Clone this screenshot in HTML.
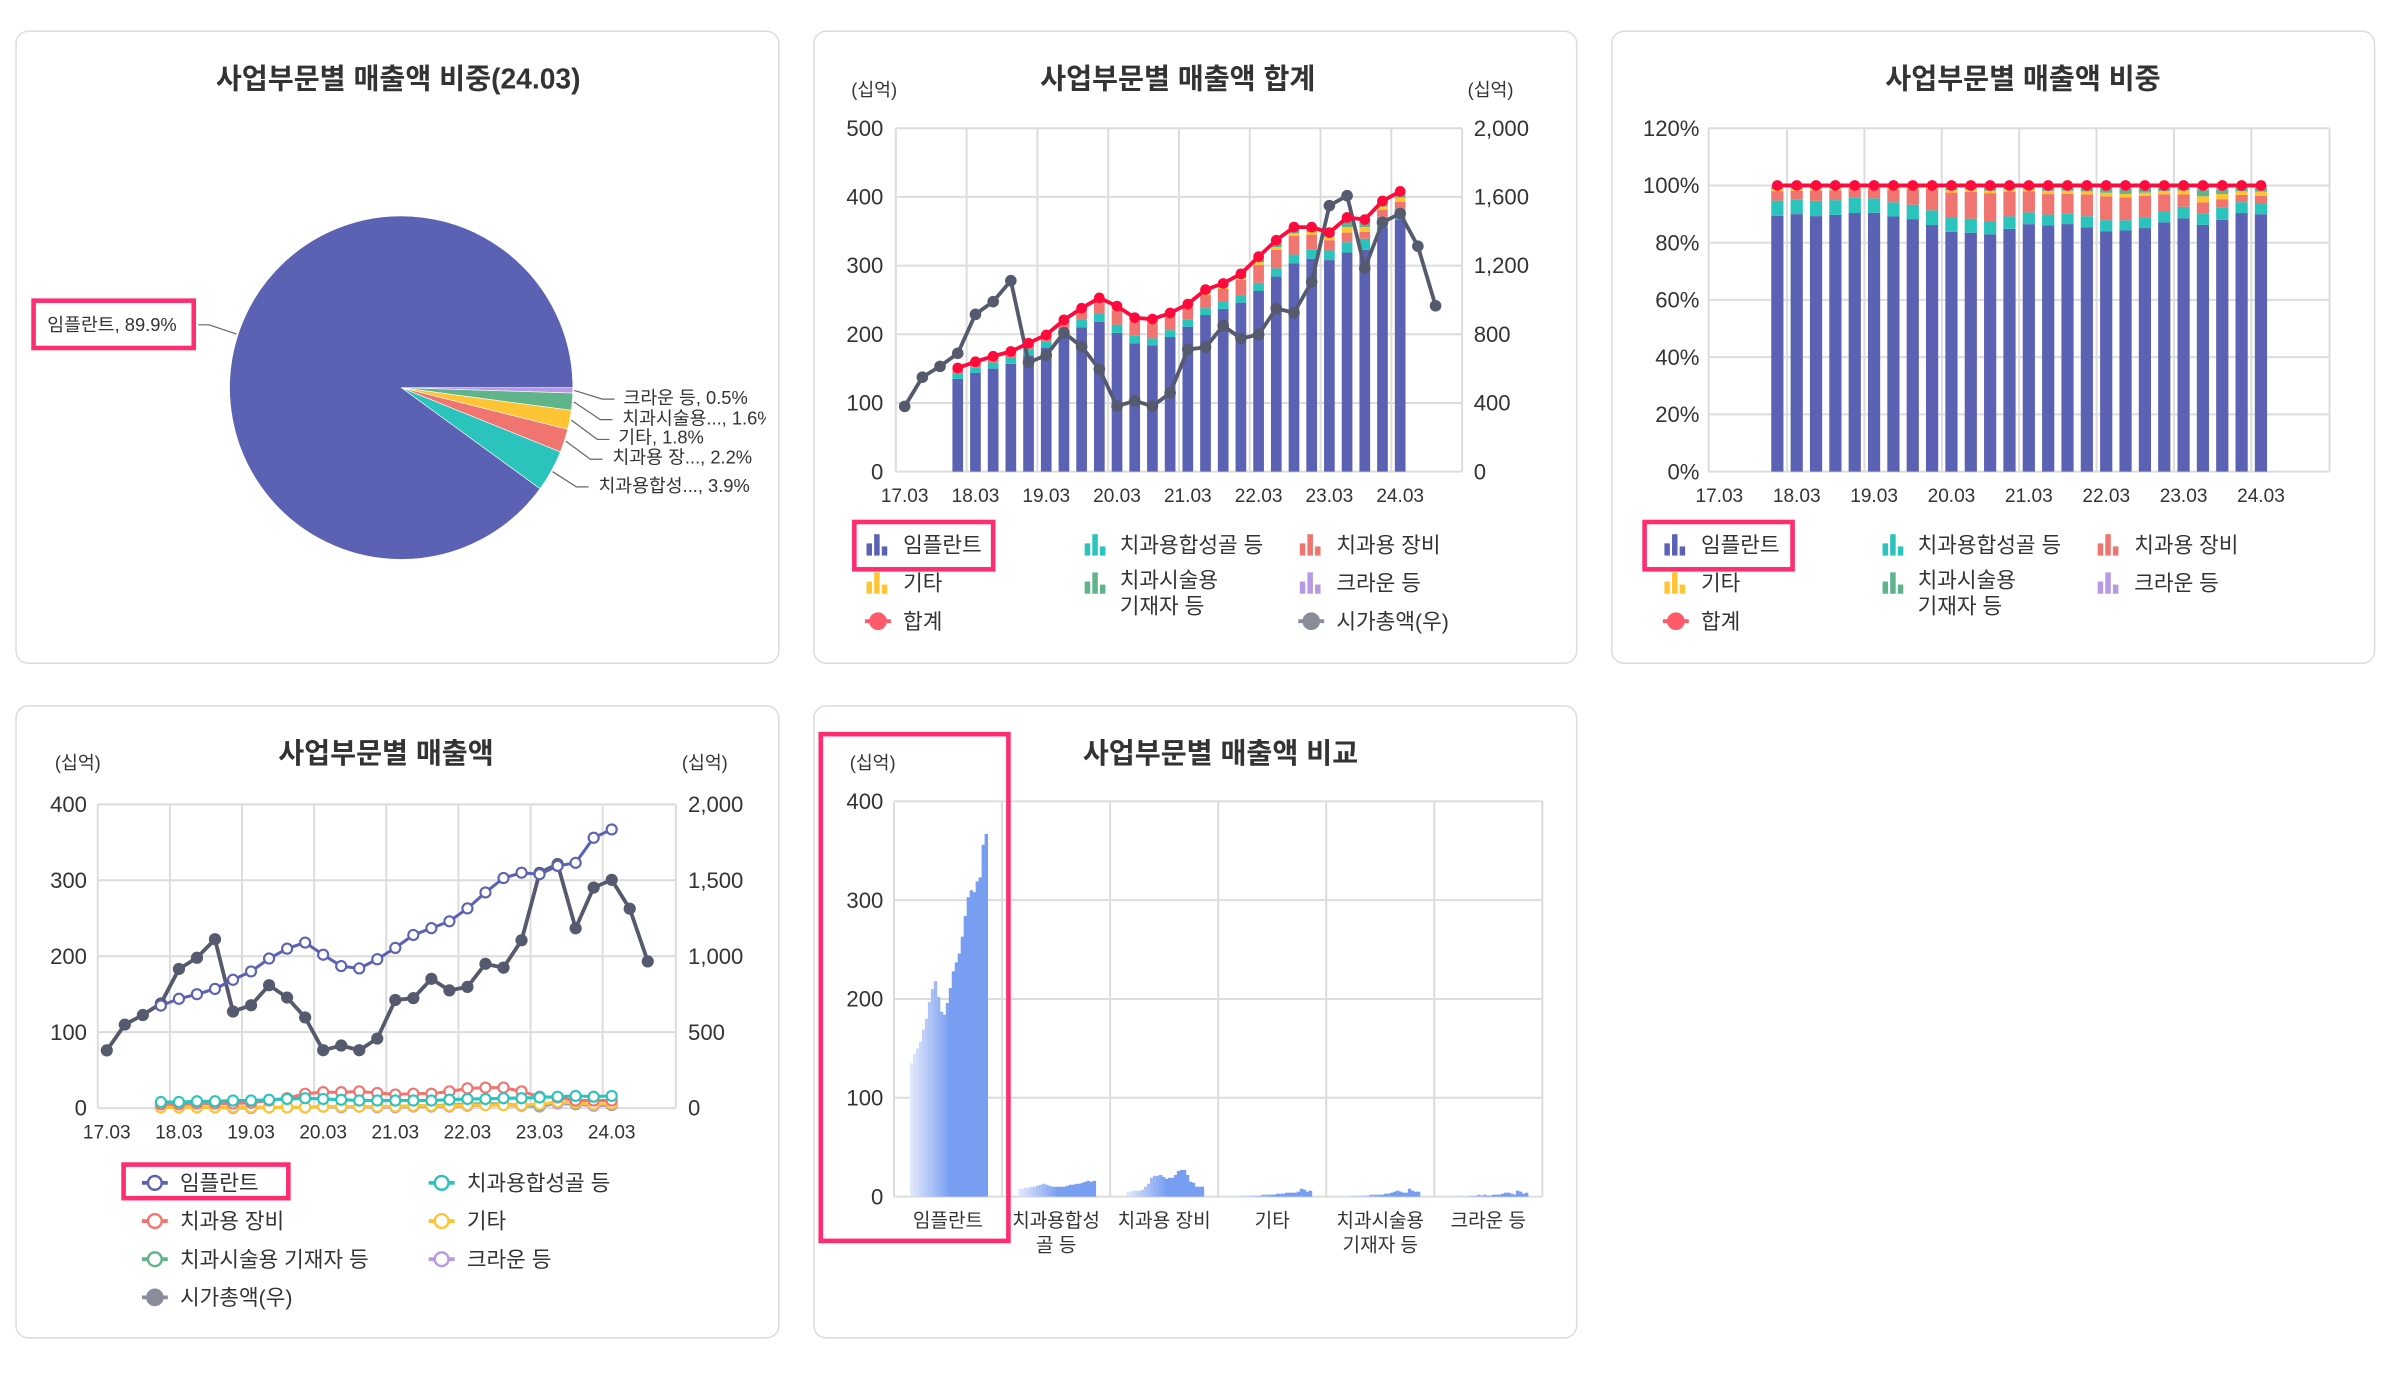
<!DOCTYPE html>
<html><head><meta charset="utf-8">
<style>
html,body{margin:0;padding:0;background:#fff;}
svg{display:block;}
text{font-family:"Liberation Sans","Noto Sans CJK KR",sans-serif;fill:#333;}
.t{font-weight:bold;font-size:18.5px;fill:#333;}
.tk{font-size:14.5px;fill:#333;}
.xl{font-size:12.5px;fill:#333;}
.u{font-size:12px;fill:#333;}
.lg{font-size:14px;fill:#333;}
.pl{font-size:12px;fill:#333;}
</style></head>
<body>
<svg id="root" width="2386" height="1392" viewBox="0 0 1564 912" preserveAspectRatio="none" xmlns="http://www.w3.org/2000/svg">
<defs><clipPath id="clip1"><rect x="10" y="20" width="492" height="414"/></clipPath></defs>
<rect x="10.5" y="20.5" width="500" height="414" rx="8" fill="#fff" stroke="#dcdcdc"/>
<rect x="533.5" y="20.5" width="500" height="414" rx="8" fill="#fff" stroke="#dcdcdc"/>
<rect x="1056.5" y="20.5" width="500" height="414" rx="8" fill="#fff" stroke="#dcdcdc"/>
<rect x="10.5" y="462.5" width="500" height="414" rx="8" fill="#fff" stroke="#dcdcdc"/>
<rect x="533.5" y="462.5" width="500" height="414" rx="8" fill="#fff" stroke="#dcdcdc"/>

<text class="t" x="261" y="58" text-anchor="middle">사업부문별 매출액 비중(24.03)</text>
<text class="t" x="772" y="58" text-anchor="middle">사업부문별 매출액 합계</text>
<text class="t" x="1326" y="58" text-anchor="middle">사업부문별 매출액 비중</text>
<text class="t" x="253" y="500" text-anchor="middle">사업부문별 매출액</text>
<text class="t" x="800" y="500" text-anchor="middle">사업부문별 매출액 비교</text>

<text class="u" x="558" y="63">(십억)</text>
<text class="u" x="962" y="63">(십억)</text>
<text class="u" x="36" y="504">(십억)</text>
<text class="u" x="447" y="504">(십억)</text>
<text class="u" x="557" y="504">(십억)</text>

<g id="g1" clip-path="url(#clip1)"></g>
<g id="g2"></g><g id="g3"></g><g id="g4"></g><g id="g5"></g>
<g id="gl"></g>

<rect x="22" y="197" width="105" height="31" fill="none" stroke="#ff2d6f" stroke-width="3"/>
<rect x="560" y="342" width="91" height="31" fill="none" stroke="#ff2d6f" stroke-width="3"/>
<rect x="1078" y="342" width="97" height="31" fill="none" stroke="#ff2d6f" stroke-width="3"/>
<rect x="81" y="763" width="108" height="22" fill="none" stroke="#ff2d6f" stroke-width="3"/>
<rect x="538" y="481" width="123" height="332" fill="none" stroke="#ff2d6f" stroke-width="3"/>
</svg>
<script>
// quarterly labels for market cap, 17.03 .. 24.09
const yearLabels = ['17.03','18.03','19.03','20.03','21.03','22.03','23.03','24.03'];
// segment data 17.12 .. 24.03 (26 quarters), 십억
const implant = [135,144,150,157,169,180,197,210,218,202,187,184,196,211,228,237,246,263,284,303,310,308,319,323,356,367];
const bone    = [8,8,9,9,10,10,11,12,13,12,11,10,10,10,10,10,11,12,12,13,13,14,15,16,15,16];
const equip   = [5,5,6,6,6,7,10,13,19,21,21,22,20,18,19,19,22,26,27,27,22,15,14,10,10,10];
const other   = [1,1,1,1,1,1,1,1,1,2,2,2,2,2,3,3,3,4,4,4,4,5,8,7,5,6];
const supply  = [1,1,1,1,1,1,1,1,1,2,2,2,2,2,3,3,4,5,6,5,4,4,8,6,5,5];
const crown   = [1,1,1,1,0,0,1,1,1,2,1,2,1,1,2,2,2,3,4,4,3,2,6,5,3,4];
// market cap 17.03 .. 24.09
const marketCap = [380,550,613,689,916,990,1112,636,677,809,728,597,381,412,381,458,712,724,851,775,798,950,925,1105,1549,1607,1184,1452,1503,1313,966];
// pie 24.03 share
const pieValues = [0.5,1.6,1.8,2.2,3.9,89.9];
const pieLabels = ['크라운 등, 0.5%','치과시술용..., 1.6%','기타, 1.8%','치과용 장..., 2.2%','치과용합성..., 3.9%','임플란트, 89.9%'];
const leftTicks500 = [0,100,200,300,400,500];
const rightTicks2000 = [0,400,800,1200,1600,2000];
const pctTicks = [0,20,40,60,80,100,120];
const leftTicks400 = [0,100,200,300,400];
const rightTicks2000b = [0,500,1000,1500,2000];
const categories = ['임플란트','치과용합성골 등','치과용 장비','기타','치과시술용 기재자 등','크라운 등'];

const NS='http://www.w3.org/2000/svg';
const C={implant:'#5c62b3',bone:'#2ac4bd',equip:'#f07470',other:'#ffc433',supply:'#5fb48c',crown:'#b79ae3',cap:'#565a6e',total:'#ff0a3c',grid:'#dcdcdc'};
const series=[implant,bone,equip,other,supply,crown];
const sColors=[C.implant,C.bone,C.equip,C.other,C.supply,C.crown];
const sNames=['implant','bone','equipment','other','supply','crown'];
const OFF=3;
const total=implant.map((v,i)=>series.reduce((a,s)=>a+s[i],0));
function mk(tag,attrs,parent){const e=document.createElementNS(NS,tag);for(const k in attrs)e.setAttribute(k,attrs[k]);parent.appendChild(e);return e;}
function pts(xf,yf,arr,off){return arr.map((v,i)=>xf(i+off).toFixed(1)+','+yf(v).toFixed(1)).join(' ');}

// ---------- Chart 1 pie ----------
(function(){
  const g=document.getElementById('g1');
  const cx=263,cy=254,r=112.5;
  const cols=[C.crown,C.supply,C.other,C.equip,C.bone,C.implant];
  const sum=pieValues.reduce((a,b)=>a+b,0);
  let a0=0;
  const mids=[];
  pieValues.forEach((v,i)=>{
    const a1=a0+v/sum*2*Math.PI;
    const large=(a1-a0)>Math.PI?1:0;
    const d=`M${cx},${cy} L${cx+r*Math.cos(a0)},${cy+r*Math.sin(a0)} A${r},${r} 0 ${large} 1 ${cx+r*Math.cos(a1)},${cy+r*Math.sin(a1)} Z`;
    const p=mk('path',{d:d,fill:cols[i],stroke:'#fff','stroke-width':0.4},g);
    
    
    mids.push((a0+a1)/2);
    a0=a1;
  });
  const lab=[[402.8,261.5,408.7,260.7],[401.5,274.9,407.9,274.2],[399.5,287.9,405.3,286.6],[395,300.9,401.5,299.6],[385.8,319,392.3,318.4],[130,212.8,31,213]];
  lab.forEach((L,i)=>{
    const m=mids[i];
    const sx=cx+(r+1)*Math.cos(m), sy=cy+(r+1)*Math.sin(m);
    let d;
    if(i<5) d=`M${sx},${sy} L${L[0]-8},${L[1]} L${L[0]},${L[1]}`;
    else d=`M${sx},${sy} L137,${L[1]} L${L[0]},${L[1]}`;
    const ln=mk('path',{d:d,fill:'none',stroke:'#666','stroke-width':0.8},g);
    
    
    const t=mk('text',{x:L[2],y:L[3]+4,'class':'pl'},g);
    t.textContent=pieLabels[i];
    
    
  });
})();

// ---------- Chart 2 combo ----------
(function(){
  const g=document.getElementById('g2');
  const x=i=>593+11.6*i, yL=v=>309-v/500*225, yR=v=>309-v/2000*225;
  const L=x(-0.5),R=x(31.5);
  leftTicks500.forEach(v=>{
    const l=mk('line',{x1:L,x2:R,y1:yL(v),y2:yL(v),stroke:C.grid,'stroke-width':1.3},g);
    
    
    const t=mk('text',{x:579,y:yL(v)+5,'text-anchor':'end','class':'tk'},g);t.textContent=v;
    
    
  });
  rightTicks2000.forEach(v=>{
    const t=mk('text',{x:966,y:yR(v)+5,'class':'tk'},g);t.textContent=v.toLocaleString('en-US');
    
    
  });
  for(let k=0;k<=8;k++){
    const l=mk('line',{x1:x(4*k-0.5),x2:x(4*k-0.5),y1:yL(500),y2:yL(0),stroke:C.grid,'stroke-width':1.3},g);
    
    
  }
  yearLabels.forEach((s,k)=>{
    const t=mk('text',{x:x(4*k),y:329,'text-anchor':'middle','class':'xl'},g);t.textContent=s;
    
    
  });
  implant.forEach((_,i)=>{
    let base=0;
    series.forEach((s,j)=>{
      const v=s[i];
      const b=mk('rect',{x:x(i+OFF)-3.5,width:7,y:yL(base+v),height:Math.max(0,yL(base)-yL(base+v)),fill:sColors[j]},g);
      
      
      base+=v;
    });
  });
  const capL=mk('polyline',{points:pts(x,yR,marketCap,0),fill:'none',stroke:C.cap,'stroke-width':2.5},g);
  
  
  marketCap.forEach((v,i)=>{
    const c=mk('circle',{cx:x(i),cy:yR(v),r:3.8,fill:C.cap},g);
    
    
  });
  const tl=mk('polyline',{points:pts(x,yL,total,OFF),fill:'none',stroke:C.total,'stroke-width':2.5},g);
  
  
  total.forEach((v,i)=>{
    const c=mk('circle',{cx:x(i+OFF),cy:yL(v),r:3.5,fill:C.total},g);
    
    
  });
})();

// ---------- Chart 3 100% stacked ----------
(function(){
  const g=document.getElementById('g3');
  const x=i=>1127+12.68*i, y=p=>309-p/120*225;
  const L=1120,R=1527;
  pctTicks.forEach(v=>{
    const l=mk('line',{x1:L,x2:R,y1:y(v),y2:y(v),stroke:C.grid,'stroke-width':1.3},g);
    
    
    const t=mk('text',{x:1114,y:y(v)+5,'text-anchor':'end','class':'tk'},g);t.textContent=v+'%';
    
    
  });
  const vx=[1120,1180,1234,1289,1343,1397,1451,1505,1527];
  for(let k=0;k<=8;k++){
    const xx=k===0?L:(k===8?R:x(4*k-0.5));
    const l=mk('line',{x1:xx,x2:xx,y1:y(120),y2:y(0),stroke:C.grid,'stroke-width':1.3},g);
    
    
  }
  yearLabels.forEach((s,k)=>{
    const t=mk('text',{x:x(4*k),y:329,'text-anchor':'middle','class':'xl'},g);t.textContent=s;
    
    
  });
  implant.forEach((_,i)=>{
    let base=0;
    series.forEach((s,j)=>{
      const p=s[i]/total[i]*100;
      const b=mk('rect',{x:x(i+OFF)-4,width:8,y:y(base+p),height:Math.max(0,y(base)-y(base+p)),fill:sColors[j]},g);
      
      
      base+=p;
    });
  });
  const pct=total.map(v=>v/v*100);
  const tl=mk('polyline',{points:pts(x,y,pct,OFF),fill:'none',stroke:C.total,'stroke-width':2.5},g);
  
  
  pct.forEach((v,i)=>{
    const c=mk('circle',{cx:x(i+OFF),cy:y(v),r:3.5,fill:C.total},g);
    
    
  });
})();

// ---------- Chart 4 lines ----------
(function(){
  const g=document.getElementById('g4');
  const x=i=>70+11.82*i, yL=v=>726-v/400*199, yR=v=>726-v/2000*199;
  const L=x(-0.5),R=443;
  leftTicks400.forEach(v=>{
    const l=mk('line',{x1:L,x2:R,y1:yL(v),y2:yL(v),stroke:C.grid,'stroke-width':1.3},g);
    
    
    const t=mk('text',{x:57,y:yL(v)+5,'text-anchor':'end','class':'tk'},g);t.textContent=v;
    
    
  });
  rightTicks2000b.forEach(v=>{
    const t=mk('text',{x:451,y:yR(v)+5,'class':'tk'},g);t.textContent=v.toLocaleString('en-US');
    
    
  });
  for(let k=0;k<=8;k++){
    const xx=k===8?R:x(4*k-0.5);
    const l=mk('line',{x1:xx,x2:xx,y1:yL(400),y2:yL(0),stroke:C.grid,'stroke-width':1.3},g);
    
    
  }
  yearLabels.forEach((s,k)=>{
    const t=mk('text',{x:x(4*k),y:746,'text-anchor':'middle','class':'xl'},g);t.textContent=s;
    
    
  });
  const capL=mk('polyline',{points:pts(x,yR,marketCap,0),fill:'none',stroke:C.cap,'stroke-width':2.5},g);
  
  
  marketCap.forEach((v,i)=>{
    const c=mk('circle',{cx:x(i),cy:yR(v),r:4,fill:C.cap},g);
    
    
  });
  for(let j=5;j>=0;j--){
    const s=series[j];
    const pl=mk('polyline',{points:pts(x,yL,s,OFF),fill:'none',stroke:sColors[j],'stroke-width':2},g);
    
    
    s.forEach((v,i)=>{
      const c=mk('circle',{cx:x(i+OFF),cy:yL(v),r:3.3,fill:'#fff',stroke:sColors[j],'stroke-width':1.4},g);
      
      
    });
  }
})();

// ---------- Chart 5 comparison ----------
(function(){
  const g=document.getElementById('g5');
  const L=586,R=1011,T=525,B=784,cw=(R-L)/6;
  const y=v=>B-v/400*(B-T);
  leftTicks400.forEach(v=>{
    const l=mk('line',{x1:L,x2:R,y1:y(v),y2:y(v),stroke:C.grid,'stroke-width':1.3},g);
    
    
    const t=mk('text',{x:579,y:y(v)+5,'text-anchor':'end','class':'tk'},g);t.textContent=v;
    
    
  });
  for(let k=0;k<=6;k++){
    const l=mk('line',{x1:L+cw*k,x2:L+cw*k,y1:T,y2:B,stroke:C.grid,'stroke-width':1.3},g);
    
    
  }
  const lbl=[['임플란트'],['치과용합성','골 등'],['치과용 장비'],['기타'],['치과시술용','기재자 등'],['크라운 등']];
  categories.forEach((c,k)=>{
    lbl[k].forEach((s,m)=>{
      const t=mk('text',{x:L+cw*(k+0.5),y:804+m*16,'text-anchor':'middle','class':'xl'},g);t.textContent=s;
      
      
    });
    const s=series[k];
    const bw=(cw-20)/s.length;
    s.forEach((v,i)=>{
      const f=Math.min(1,i/13);
      const r=Math.round(224+(120-224)*f),gg=Math.round(231+(158-231)*f),b=Math.round(251+(242-251)*f);
      const rc=mk('rect',{x:L+cw*k+10.5+i*bw,width:bw+0.3,y:y(v),height:B-y(v),fill:`rgb(${r},${gg},${b})`},g);
      
      
    });
  });
})();

// ---------- Legends ----------
(function(){
  const g=document.getElementById('gl');
  function barIcon(x,y,col,name){
    [[0,8],[5,14],[10,6]].forEach(h=>{
      const r=mk('rect',{x:x+h[0],y:y+7-h[1],width:3.6,height:h[1],fill:col},g);
      
      
    });
  }
  function lineIcon(x,y,col,hollow,name){
    const l=mk('line',{x1:x,x2:x+17,y1:y,y2:y,stroke:col,'stroke-width':2.5},g);
    
    
    const c=mk('circle',{cx:x+8.5,cy:y,r:hollow?4.5:5,fill:hollow?'#fff':col,stroke:col,'stroke-width':1.6},g);
    
    
  }
  function txt(x,y,s,name){
    const t=mk('text',{x:x,y:y+5,'class':'lg'},g);t.textContent=s;
    
    
  }
  [0,523].forEach((dx,p)=>{
    const c1=568+dx,c2=711+dx,c3=852+dx;
    barIcon(c1,357,C.implant,'legend-implant');txt(c1+24,357,'임플란트','legend-implant');
    barIcon(c2,357,C.bone,'legend-bone');txt(c2+23,357,'치과용합성골 등','legend-bone');
    barIcon(c3,357,C.equip,'legend-equipment');txt(c3+24,357,'치과용 장비','legend-equipment');
    barIcon(c1,382,C.other,'legend-other');txt(c1+24,382,'기타','legend-other');
    barIcon(c2,382,C.supply,'legend-supply');txt(c2+23,380,'치과시술용','legend-supply');txt(c2+23,397,'기재자 등','legend-supply');
    barIcon(c3,382,C.crown,'legend-crown');txt(c3+24,382,'크라운 등','legend-crown');
    lineIcon(c1-1,407,'#ff5a6a',false,'legend-total');txt(c1+24,407,'합계','legend-total');
    if(p===0){lineIcon(c3-1,407,'#8a8d99',false,'legend-market-cap');txt(c3+24,407,'시가총액(우)','legend-market-cap');}
  });
  const rows=[[93,775,C.implant,'임플란트',true],[281,775,C.bone,'치과용합성골 등',true],[93,800,C.equip,'치과용 장비',true],[281,800,C.other,'기타',true],[93,825,C.supply,'치과시술용 기재자 등',true],[281,825,C.crown,'크라운 등',true],[93,850,'#8a8d99','시가총액(우)',false]];
  rows.forEach(r=>{
    lineIcon(r[0],r[1],r[2],r[4],'legend-line-series');
    txt(r[0]+25,r[1],r[3],'legend-line-series-label');
  });
})();
</script>
</body></html>
